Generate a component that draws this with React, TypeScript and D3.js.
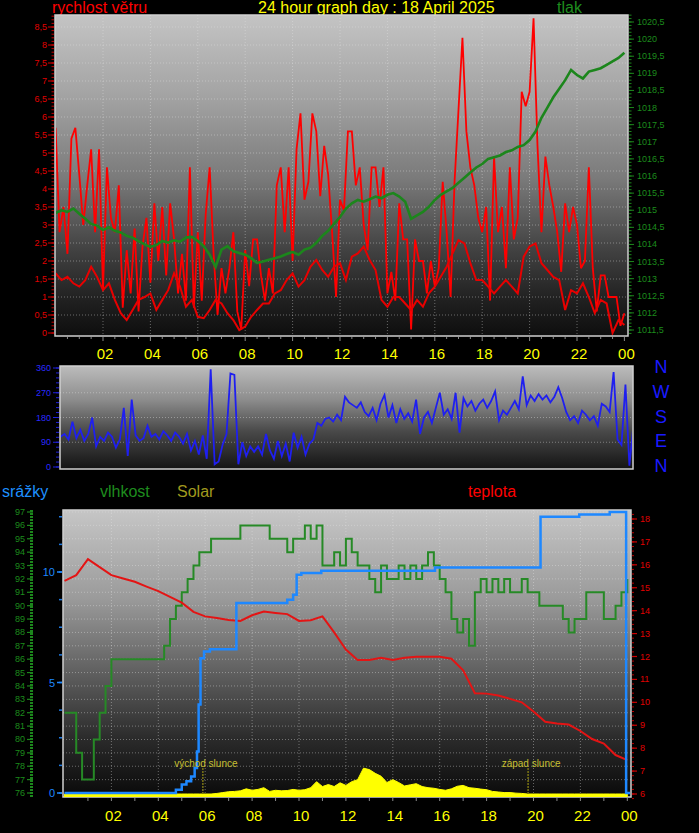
import * as d3 from 'd3';

type Pt = [number, number];

const HOUR_LABELS = ['02', '04', '06', '08', '10', '12', '14', '16', '18', '20', '22', '00'];
const LABEL_HOURS = [2, 4, 6, 8, 10, 12, 14, 16, 18, 20, 22, 24];

// wind gust (m/s), 10 minute samples from 00:00
const GUST_STEP_H = 1 / 6;
const WIND_GUST = [
  5.7, 2.8, 3.5, 2.2, 5.4, 5.7, 4.4, 3.0, 4.1, 5.1, 2.8, 5.1, 1.2, 4.6, 3.2, 2.8, 4.1, 0.7, 2.3, 1.1,
  2.9, 0.6, 2.4, 3.2, 1.4, 3.6, 2.0, 3.5, 1.6, 3.6, 2.6, 1.1, 2.2, 0.9, 4.6, 0.7, 2.8, 0.9, 3.3, 4.6,
  2.2, 0.5, 1.8, 1.1, 1.8, 2.8, 0.6, 0.1, 2.3, 1.3, 2.6, 2.6, 1.6, 0.9, 1.8, 1.1, 4.1, 4.6, 2.8, 4.6,
  2.0, 5.1, 6.1, 3.7, 4.2, 6.1, 5.6, 3.8, 5.2, 4.4, 2.8, 1.0, 3.7, 3.4, 5.6, 5.6, 4.1, 4.6, 3.0, 2.3,
  4.6, 4.6, 3.5, 4.6, 1.1, 1.7, 0.9, 3.6, 2.6, 2.6, 0.1, 2.6, 2.0, 2.0, 1.1, 2.0, 1.3, 1.8, 4.2, 2.8,
  1.0, 4.2, 6.2, 8.2, 5.6, 4.6, 4.1, 3.2, 2.8,
  3.5, 0.9, 4.9, 2.8, 3.5, 1.8, 4.6, 2.6, 3.2, 6.7, 6.3, 6.7, 8.74, 5.2, 2.8, 4.9, 4.1, 3.5, 2.8, 1.7,
  3.6, 2.8, 3.5, 3.0, 1.8, 2.0, 4.6, 1.8, 0.6, 1.6, 1.6, 1.0, 1.0, 1.0, 0.2, 0.55,
];

// average wind (m/s), 15 minute samples
const AVG_STEP_H = 0.25;
const WIND_AVG = [
  1.66, 1.47, 1.56, 1.38, 1.29, 1.47, 1.84, 1.56, 1.19, 1.38, 0.92, 0.55, 0.36, 0.64, 0.92, 1.0, 1.1,
  0.64, 0.92, 1.19, 1.66, 1.29, 0.73, 0.92, 0.45, 0.41, 0.64, 0.92, 0.82, 0.55, 0.36, 0.08, 0.18, 0.45,
  0.64, 0.82, 0.82, 1.1, 1.19, 1.47, 1.66, 1.29, 1.47, 1.84, 2.03, 1.75, 1.56, 1.84, 1.94, 1.47,
  2.12, 2.21, 2.4, 2.03, 1.75, 0.92, 0.73, 1.0, 1.0, 0.82, 0.64, 0.92, 0.73, 1.1, 1.29, 1.56, 1.84,
  2.21, 2.58, 2.49, 1.94, 1.47, 1.47, 1.29, 1.1, 1.29, 1.47, 1.29, 1.1, 2.12, 2.4, 2.49, 1.94, 1.75,
  1.56, 1.47, 0.64, 1.19, 1.1, 1.38, 1.0, 0.55, 0.92, 0.82, 0.0, 0.36, 0.22,
];

// pressure (hPa), 15 minute samples
const PRESSURE_STEP_H = 0.25;
const PRESSURE = [
  1014.92, 1015.0, 1014.95, 1015.05, 1014.9, 1014.75, 1014.6, 1014.55, 1014.42, 1014.5, 1014.4,
  1014.35, 1014.25, 1014.2, 1014.1, 1014.0, 1013.93, 1013.98, 1014.1, 1014.05, 1014.12, 1014.08,
  1014.2, 1014.22, 1014.1, 1013.95, 1013.7, 1013.34, 1013.85, 1013.95, 1013.8, 1013.75, 1013.7,
  1013.6, 1013.46, 1013.5, 1013.55, 1013.6, 1013.65, 1013.72, 1013.78, 1013.7, 1013.85, 1013.9,
  1014.05, 1014.25, 1014.4, 1014.6, 1014.8, 1015.05, 1015.2, 1015.3, 1015.25, 1015.32, 1015.4,
  1015.35, 1015.45, 1015.5, 1015.4, 1015.25, 1014.75, 1014.85, 1014.95, 1015.1, 1015.3, 1015.45,
  1015.55, 1015.65, 1015.8, 1015.95, 1016.1, 1016.25, 1016.35, 1016.5, 1016.55, 1016.6, 1016.7,
  1016.75, 1016.85, 1016.9, 1017.05, 1017.3, 1017.7, 1018.0, 1018.3, 1018.55, 1018.8, 1019.1,
  1018.95, 1018.85, 1019.05, 1019.1, 1019.15, 1019.25, 1019.35, 1019.45, 1019.6,
];

// wind direction (deg), 10 minute samples
const DIR_STEP_H = 1 / 6;
const WIND_DIR = [
  110, 120, 100, 165, 105, 135, 95, 120, 180, 75, 110, 95, 125, 110, 70, 100, 215, 40, 245, 115,
  95, 105, 150, 110, 120, 100, 130, 115, 95, 125, 110, 85, 120, 60, 95, 45, 115, 30, 355, 10,
  20, 80, 120, 340, 335, 10, 90, 40, 75, 55, 75, 45, 120, 60, 30, 95, 40, 85, 20, 125,
  70, 110, 45, 85, 100, 160, 150, 175, 180, 165, 190, 170, 255, 235, 225, 215, 235, 200, 185, 215,
  170, 230, 262, 180, 225, 160, 210, 175, 195, 165, 245, 120, 180, 200, 160, 215, 270, 190, 210, 175,
  270, 125, 250, 220, 240, 205, 230, 245, 215,
  240, 275, 170, 205, 190, 215, 240, 210, 330, 225, 260, 240, 265, 245, 260, 235, 255, 290, 250, 200,
  170, 185, 160, 205, 190, 170, 185, 150, 230, 220, 200, 345, 100, 80, 300, 5, 150,
];

// temperature (°C), 30 minute samples
const TEMP_STEP_H = 0.5;
const TEMPERATURE = [
  15.3, 15.55, 16.25, 15.9, 15.55, 15.4, 15.26, 15.05, 14.85, 14.6, 14.35, 13.95, 13.75, 13.68, 13.59,
  13.55, 13.8, 13.96, 13.9, 13.85, 13.55, 13.58, 13.75, 13.05, 12.3, 11.85, 11.85, 11.95, 11.85, 11.95,
  11.99, 11.99, 11.99, 11.9, 11.4, 10.4, 10.38, 10.3, 10.15, 10.0, 9.6, 9.15, 9.08, 9.03, 8.75, 8.4,
  8.2, 7.7, 7.48,
];

// humidity (%), 15 minute samples
const HUM_STEP_H = 0.25;
const HUMIDITY = [
  82, 82, 79, 77, 77, 80, 82, 84, 86, 86, 86, 86, 86, 86, 86, 86, 86, 87, 89, 90,
  91, 92, 93, 94, 94, 95, 95, 95, 95, 95, 96, 96, 96, 96, 96, 95, 95, 95, 94, 95,
  95, 96, 95, 96, 93, 93, 94, 93, 95, 94, 93, 93, 92, 91, 93, 92, 92, 93, 92, 93,
  92, 93, 94, 93, 92, 91, 89, 88, 89, 87, 91, 92, 91, 92, 91, 92, 91, 91, 92, 91,
  91, 90, 90, 90, 90, 89, 88, 89, 89, 91, 91, 91, 89, 89, 90, 91, 92,
];

// rain total (mm) at change times (hours)
const RAIN_HOURS = [0, 4.75, 5.0, 5.2, 5.4, 5.55, 5.65, 5.72, 5.8, 5.95, 6.2, 7.33, 9.5, 9.75, 9.9, 10.1, 10.95, 15.8, 20.3, 21.95, 23.25, 23.95, 24.2];
const RAIN_MM = [0, 0.15, 0.38, 0.53, 0.75, 1.13, 1.88, 4.0, 6.1, 6.4, 6.5, 8.6, 8.75, 8.97, 9.88, 9.95, 10.06, 10.2, 12.5, 12.6, 12.72, 0, 0];

// solar (W/m2), 15 minute samples
const SOLAR_STEP_H = 0.25;
const SOLAR = [
  0, 0, 0, 0, 0, 0, 0, 0, 0, 0, 0, 0, 0, 0, 0, 0, 0, 0, 0, 0, 0, 0, 0, 0, 0, 0,
  2, 5, 8, 9, 11, 18, 13, 16, 22, 9, 13, 11, 12, 16, 13, 15, 22, 43, 26, 33, 26, 39, 30, 43,
  50, 90, 85, 72, 62, 40, 50, 40, 28, 32, 36, 26, 22, 20, 16, 13, 18, 27, 30, 22, 20, 17, 15, 9,
  7, 5, 5, 3, 2,
  0, 0, 0, 0, 0, 0, 0, 0, 0, 0, 0, 0, 0, 0, 0, 0, 0, 0,
];

const SUNRISE_H = 5.9;
const SUNSET_H = 19.77;

const FONT = "Arial, 'Liberation Sans', sans-serif";
const fmt = (v: number) => String(+v.toFixed(1)).replace('.', ',');
const toPts = (vals: number[], step: number): Pt[] => vals.map((v, i) => [i * step, v]);

const TOP = { x: 55, y: 15, w: 573, h: 321 };
const MID = { x: 60, y: 366, w: 573, h: 103 };
const BOT = { x: 63, y: 510, w: 568, h: 287 };

const GRID = { stroke: '#e6e6e6', strokeOpacity: 0.4, strokeDasharray: '1 2', strokeWidth: 1 };

export default function App() {
  const xTop = d3.scaleLinear().domain([0, 24]).range([55.6, 624.4]);
  const ySpeed = d3.scaleLinear().domain([0, 8.5]).range([333, 27]);
  const yPress = d3.scaleLinear().domain([1011.5, 1020.5]).range([330, 22]);

  const xMid = d3.scaleLinear().domain([0, 24]).range([60.6, 629.4]);
  const yDir = d3.scaleLinear().domain([0, 360]).range([467, 368]);

  const xBot = d3.scaleLinear().domain([0, 24]).range([64.5, 627.3]);
  const yRain = d3.scaleLinear().domain([0, 10]).range([793, 572]);
  const yHum = d3.scaleLinear().domain([76, 97]).range([793, 512]);
  const yTemp = d3.scaleLinear().domain([6, 18]).range([794, 519]);
  const ySolar = d3.scaleLinear().domain([0, 1000]).range([794, 507]);

  const gustLine = d3.line<Pt>().x(d => xTop(d[0])).y(d => ySpeed(d[1]));
  const avgLine = d3.line<Pt>().x(d => xTop(d[0])).y(d => ySpeed(d[1]));
  const pressLine = d3.line<Pt>().x(d => xTop(d[0])).y(d => yPress(d[1]));
  const dirLine = d3.line<Pt>().x(d => xMid(d[0])).y(d => yDir(d[1]));
  const tempLine = d3.line<Pt>().x(d => xBot(d[0])).y(d => yTemp(d[1]));
  const humLine = d3.line<Pt>().x(d => xBot(d[0])).y(d => yHum(d[1])).curve(d3.curveStepAfter);
  const rainLine = d3.line<Pt>().x(d => xBot(d[0])).y(d => yRain(d[1])).curve(d3.curveStepAfter);
  const solarArea = d3.area<Pt>().x(d => xBot(d[0])).y0(797).y1(d => ySolar(d[1]));

  const rainPts: Pt[] = RAIN_HOURS.map((h, i) => [h, RAIN_MM[i]]);

  const plotBox = (p: typeof TOP, grad: string) => (
    <rect x={p.x} y={p.y} width={p.w} height={p.h} fill={`url(#${grad})`} stroke="#cfcfcf" strokeWidth={1.5} />
  );

  return (
    <div style={{ position: 'absolute', left: 0, top: 0, background: '#000' }}>
      <svg width={699} height={833} style={{ display: 'block', background: '#000' }} fontFamily={FONT}>
        <defs>
          <linearGradient id="gTop" x1="0" y1="0" x2="0" y2="1">
            <stop offset="0" stopColor="#c4c4c4" />
            <stop offset="0.26" stopColor="#a2a2a2" />
            <stop offset="0.51" stopColor="#7a7a7a" />
            <stop offset="0.73" stopColor="#424242" />
            <stop offset="0.89" stopColor="#202020" />
            <stop offset="1" stopColor="#0e0e0e" />
          </linearGradient>
          <linearGradient id="gMid" x1="0" y1="0" x2="0" y2="1">
            <stop offset="0" stopColor="#bcbcbc" />
            <stop offset="0.33" stopColor="#8c8c8c" />
            <stop offset="0.63" stopColor="#4a4a4a" />
            <stop offset="1" stopColor="#141414" />
          </linearGradient>
          <linearGradient id="gBot" x1="0" y1="0" x2="0" y2="1">
            <stop offset="0" stopColor="#c6c6c6" />
            <stop offset="0.31" stopColor="#9a9a9a" />
            <stop offset="0.59" stopColor="#5a5a5a" />
            <stop offset="0.8" stopColor="#2a2a2a" />
            <stop offset="1" stopColor="#0a0a0a" />
          </linearGradient>
          <clipPath id="cTop"><rect x={TOP.x + 1} y={TOP.y} width={TOP.w - 2} height={TOP.h - 1} /></clipPath>
          <clipPath id="cMid"><rect x={MID.x + 1} y={MID.y} width={MID.w - 2} height={MID.h - 1} /></clipPath>
          <clipPath id="cBot"><rect x={BOT.x + 1} y={BOT.y} width={BOT.w - 2} height={BOT.h} /></clipPath>
        </defs>

        {/* ---------- top panel: wind speed + pressure ---------- */}
        <text x={52} y={13} fontSize={16} fill="#ff0000">rychlost větru</text>
        <text x={258} y={13} fontSize={16} fill="#ffff00">24 hour graph day : 18 April 2025</text>
        <text x={557} y={13} fontSize={16} fill="#1e8c1e">tlak</text>

        {plotBox(TOP, 'gTop')}
        {d3.range(0.5, 8.51, 0.5).map(v => (
          <line key={`gt${v}`} x1={TOP.x} x2={TOP.x + TOP.w} y1={ySpeed(v)} y2={ySpeed(v)} {...GRID} />
        ))}
        {LABEL_HOURS.slice(0, 11).map(h => (
          <line key={`gv${h}`} x1={xTop(h)} x2={xTop(h)} y1={TOP.y} y2={TOP.y + TOP.h} {...GRID} />
        ))}

        <g clipPath="url(#cTop)">
          <path d={gustLine(toPts(WIND_GUST, GUST_STEP_H)) || ''} fill="none" stroke="#ff0000" strokeWidth={1.8} strokeLinejoin="miter" strokeMiterlimit={2} />
          <path d={avgLine(toPts(WIND_AVG, AVG_STEP_H)) || ''} fill="none" stroke="#e80000" strokeWidth={2} />
          <path d={pressLine(toPts(PRESSURE, PRESSURE_STEP_H)) || ''} fill="none" stroke="#1c861c" strokeWidth={2.6} />
        </g>

        {/* left speed axis */}
        {d3.range(0, 8.81, 0.1).map(v => (
          <line key={`sm${v}`} x1={51.5} x2={54} y1={ySpeed(v)} y2={ySpeed(v)} stroke="#c00000" strokeWidth={1} />
        ))}
        {d3.range(0, 8.51, 0.5).map(v => (
          <g key={`sl${v}`}>
            <line x1={48} x2={54} y1={ySpeed(v)} y2={ySpeed(v)} stroke="#e00000" strokeWidth={1} />
            <text x={47} y={ySpeed(v) + 3} fontSize={9} textAnchor="end" fill="#e00000">{fmt(v)}</text>
          </g>
        ))}
        {/* right pressure axis */}
        {d3.range(1011.4, 1020.75, 0.1).map(v => (
          <line key={`pm${v}`} x1={629} x2={631.5} y1={yPress(v)} y2={yPress(v)} stroke="#1c861c" strokeWidth={1} />
        ))}
        {d3.range(1011.5, 1020.51, 0.5).map(v => (
          <g key={`pl${v}`}>
            <line x1={629} x2={634} y1={yPress(v)} y2={yPress(v)} stroke="#1c861c" strokeWidth={1} />
            <text x={637} y={yPress(v) + 3} fontSize={9} fill="#1c8c1c">{fmt(v)}</text>
          </g>
        ))}
        {/* top x axis */}
        {d3.range(0.5, 24.01, 0.5).map(h => (
          <line key={`tx${h}`} x1={xTop(h)} x2={xTop(h)} y1={TOP.y + TOP.h + 1} y2={TOP.y + TOP.h + (h % 2 === 0 ? 5 : 3)} stroke="#8a8a8a" />
        ))}
        {LABEL_HOURS.map((h, i) => (
          <text key={`tl${h}`} x={xTop(h) + 2} y={359} fontSize={15} textAnchor="middle" fill="#ffff00">{HOUR_LABELS[i]}</text>
        ))}

        {/* ---------- middle panel: wind direction ---------- */}
        {plotBox(MID, 'gMid')}
        {[90, 180, 270].map(v => (
          <line key={`gm${v}`} x1={MID.x} x2={MID.x + MID.w} y1={yDir(v)} y2={yDir(v)} {...GRID} />
        ))}
        <g clipPath="url(#cMid)">
          <path d={dirLine(toPts(WIND_DIR, DIR_STEP_H)) || ''} fill="none" stroke="#1f1ff0" strokeWidth={1.8} />
        </g>
        {d3.range(0, 361, 18).map(v => (
          <line key={`dm${v}`} x1={56} x2={59} y1={yDir(v)} y2={yDir(v)} stroke="#2020e0" />
        ))}
        {[0, 90, 180, 270, 360].map(v => (
          <g key={`dl${v}`}>
            <line x1={53} x2={59} y1={yDir(v)} y2={yDir(v)} stroke="#2020e0" />
            <text x={51} y={yDir(v) + 3} fontSize={9} textAnchor="end" fill="#2a2aff">{v}</text>
          </g>
        ))}
        {['N', 'W', 'S', 'E', 'N'].map((c, i) => (
          <text key={`c${i}`} x={661} y={373 + i * 24.75} fontSize={18} textAnchor="middle" fill="#1a1aff">{c}</text>
        ))}

        {/* ---------- bottom panel: rain, humidity, solar, temperature ---------- */}
        <text x={2} y={497} fontSize={16} fill="#1e90ff">srážky</text>
        <text x={100} y={497} fontSize={16} fill="#1e8c1e">vlhkost</text>
        <text x={177} y={497} fontSize={16} fill="#a09a1e">Solar</text>
        <text x={468} y={497} fontSize={16} fill="#ff0000">teplota</text>

        {plotBox(BOT, 'gBot')}
        {d3.range(77, 97.1, 1).map(v => (
          <line key={`gb${v}`} x1={BOT.x} x2={BOT.x + BOT.w} y1={yHum(v)} y2={yHum(v)} {...GRID} />
        ))}
        {LABEL_HOURS.slice(0, 11).map(h => (
          <line key={`gbv${h}`} x1={xBot(h)} x2={xBot(h)} y1={BOT.y} y2={BOT.y + BOT.h} {...GRID} />
        ))}

        <g clipPath="url(#cBot)">
          <path d={solarArea(toPts(SOLAR, SOLAR_STEP_H)) || ''} fill="#ffff00" stroke="#ffff00" strokeWidth={1} />
          {[SUNRISE_H, SUNSET_H].map(h => (
            <line key={`sun${h}`} x1={xBot(h)} x2={xBot(h)} y1={768} y2={795} stroke="#7a7414" strokeWidth={1.5} strokeDasharray="2 1" />
          ))}
          <path d={humLine(toPts(HUMIDITY, HUM_STEP_H)) || ''} fill="none" stroke="#268a26" strokeWidth={2} />
          <path d={tempLine(toPts(TEMPERATURE, TEMP_STEP_H)) || ''} fill="none" stroke="#e41414" strokeWidth={2} />
          <path d={rainLine(rainPts) || ''} fill="none" stroke="#1e88ff" strokeWidth={2.5} />
        </g>
        <text x={xBot(SUNRISE_H) + 3} y={767} fontSize={10} textAnchor="middle" fill="#c8c032">východ slunce</text>
        <text x={xBot(SUNSET_H) + 3} y={767} fontSize={10} textAnchor="middle" fill="#c8c032">západ slunce</text>

        {/* humidity axis (far left) */}
        <line x1={31.5} x2={31.5} y1={BOT.y} y2={BOT.y + BOT.h} stroke="#1c861c" strokeWidth={3} strokeDasharray="2 1" />
        {d3.range(76, 97.1, 1).map(v => (
          <g key={`hl${v}`}>
            <line x1={27} x2={33} y1={yHum(v)} y2={yHum(v)} stroke="#1c861c" strokeWidth={1.2} />
            <text x={25} y={yHum(v) + 3} fontSize={9} textAnchor="end" fill="#1c8c1c">{v}</text>
          </g>
        ))}
        {/* rain axis */}
        {d3.range(0, 12.6, 1.25).map(v => (
          <line key={`rm${v}`} x1={59} x2={62} y1={yRain(v)} y2={yRain(v)} stroke="#1e78e0" strokeWidth={1.5} />
        ))}
        {[0, 5, 10].map(v => (
          <g key={`rl${v}`}>
            <line x1={57} x2={62} y1={yRain(v)} y2={yRain(v)} stroke="#1e88ff" strokeWidth={1.5} />
            <text x={55} y={yRain(v) + 4} fontSize={11} textAnchor="end" fill="#1e88ff">{v}</text>
          </g>
        ))}
        {/* temperature axis (right) */}
        {d3.range(5.8, 18.4, 0.2).map(v => (
          <line key={`tm${v}`} x1={632} x2={634} y1={yTemp(v)} y2={yTemp(v)} stroke="#c00000" />
        ))}
        {d3.range(6, 18.1, 1).map(v => (
          <g key={`tt${v}`}>
            <line x1={632} x2={637} y1={yTemp(v)} y2={yTemp(v)} stroke="#d00000" strokeWidth={1.2} />
            <text x={640} y={yTemp(v) + 3} fontSize={9} fill="#e00000">{v}</text>
          </g>
        ))}
        {/* bottom x axis */}
        {d3.range(1, 24.1, 1).map(h => (
          <line key={`bx${h}`} x1={xBot(h)} x2={xBot(h)} y1={BOT.y + BOT.h + 1} y2={BOT.y + BOT.h + 4} stroke="#8a8a8a" />
        ))}
        {LABEL_HOURS.map((h, i) => (
          <text key={`bl${h}`} x={xBot(h) + 2} y={821} fontSize={15} textAnchor="middle" fill="#ffff00">{HOUR_LABELS[i]}</text>
        ))}
      </svg>
    </div>
  );
}
